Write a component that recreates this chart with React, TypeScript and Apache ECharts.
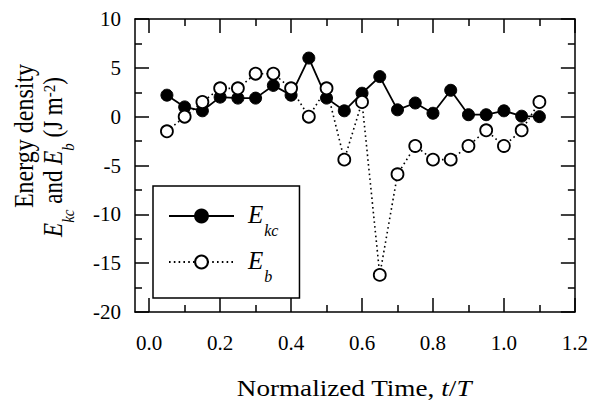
import React, { useEffect, useRef } from "react";
import * as echarts from "echarts";

const times = [0.05, 0.1, 0.15, 0.2, 0.25, 0.3, 0.35, 0.4, 0.45, 0.5, 0.55, 0.6, 0.65, 0.7, 0.75, 0.8, 0.85, 0.9, 0.95, 1.0, 1.05, 1.1];
const ekc = [2.2, 1.0, 0.6, 2.0, 1.9, 1.9, 3.2, 2.2, 6.0, 1.9, 0.6, 2.4, 4.1, 0.7, 1.4, 0.35, 2.7, 0.2, 0.2, 0.6, 0.05, 0.0];
const eb = [-1.5, 0.0, 1.5, 2.9, 2.9, 4.4, 4.4, 2.9, 0.0, 2.9, -4.4, 1.5, -16.2, -5.9, -3.0, -4.4, -4.4, -3.0, -1.4, -3.0, -1.4, 1.5];
const xMajorTicks = [0, 0.2, 0.4, 0.6, 0.8, 1.0, 1.2];
const xMinorTicks = [0.1, 0.3, 0.5, 0.7, 0.9, 1.1];
const yMin = -20;
const yMax = 10;
const yStep = 5;

const FONT = "Liberation Serif";

export default function App() {
  const ref = useRef<HTMLDivElement>(null);
  useEffect(() => {
    if (!ref.current) return;
    const chart = echarts.init(ref.current, null, { renderer: "svg" });
    const axisLineStyle = { color: "#000", width: 1.5 };
    const grid = { left: 135, top: 19, width: 440, height: 293 };
    const xBase = (position: string, ticks: number[], len: number, labels: boolean, line: boolean) => ({
      type: "value",
      position,
      min: -0.04,
      max: 1.2,
      axisLine: { show: line, onZero: false, lineStyle: axisLineStyle },
      axisTick: { show: true, inside: true, length: len, customValues: ticks, lineStyle: axisLineStyle },
      axisLabel: labels
        ? {
            show: true,
            customValues: xMajorTicks,
            formatter: (v: number) => v.toFixed(1),
            color: "#000",
            fontFamily: FONT,
            fontSize: 21,
            margin: 20,
          }
        : { show: false },
      splitLine: { show: false },
    });
    const yBase = (position: string, labels: boolean) => ({
      type: "value",
      position,
      min: yMin,
      max: yMax,
      interval: yStep,
      axisLine: { show: true, onZero: false, lineStyle: axisLineStyle },
      axisTick: { show: true, inside: true, length: 14, lineStyle: axisLineStyle },
      minorTick: { show: true, splitNumber: 2, length: 7, lineStyle: axisLineStyle },
      axisLabel: labels
        ? { show: true, color: "#000", fontFamily: FONT, fontSize: 21, margin: 14 }
        : { show: false },
      splitLine: { show: false },
      minorSplitLine: { show: false },
    });
    const legendRich = {
      e: { fontFamily: FONT, fontStyle: "italic", fontSize: 25, lineHeight: 28, verticalAlign: "top", color: "#000", padding: [0, 0, 0, 9] },
      s: { fontFamily: FONT, fontStyle: "italic", fontSize: 16, lineHeight: 16, padding: [20, 0, 0, 1], verticalAlign: "top", color: "#000" },
    };
    const nameRich = {
      n: { fontFamily: FONT, fontSize: 23, lineHeight: 26, verticalAlign: "top", color: "#000" },
      i: { fontFamily: FONT, fontStyle: "italic", fontSize: 23, lineHeight: 26, verticalAlign: "top", color: "#000" },
      sb: { fontFamily: FONT, fontStyle: "italic", fontSize: 15, lineHeight: 15, padding: [17, 0, 0, 0], verticalAlign: "top", color: "#000" },
      sp: { fontFamily: FONT, fontSize: 15, lineHeight: 15, padding: [0, 0, 0, 0], verticalAlign: "top", color: "#000" },
    };
    chart.setOption({
      animation: false,
      backgroundColor: "#fff",
      grid,
      xAxis: [
        xBase("bottom", xMajorTicks, 14, true, true),
        xBase("bottom", xMinorTicks, 7, false, false),
        xBase("top", xMajorTicks, 14, false, true),
        xBase("top", xMinorTicks, 7, false, false),
      ],
      yAxis: [yBase("left", true), yBase("right", false)],
      legend: {
        orient: "vertical",
        left: 153,
        top: 186,
        padding: [16, 21, 14, 15],
        itemGap: 10,
        itemWidth: 65,
        itemHeight: 16,
        borderColor: "#000",
        borderWidth: 1.5,
        backgroundColor: "#fff",
        data: ["Ekc", "Eb"],
        formatter: (name: string) => (name === "Ekc" ? "{e|E}{s|kc}" : "{e|E}{s|b}"),
        textStyle: { rich: legendRich },
      },
      graphic: [
        {
          type: "text",
          x: 24,
          y: 136,
          rotation: Math.PI / 2,
          scaleY: 1.15,
          style: { text: "Energy density", fontFamily: FONT, fontSize: 24, fill: "#000", align: "center", verticalAlign: "middle" },
        },
        {
          type: "text",
          x: 55,
          y: 157,
          rotation: Math.PI / 2,
          scaleY: 1.15,
          style: {
            text: "{i|E}{sb|kc}{n| and }{i|E}{sb|b}{n| (J m}{sp|-2}{n|)}",
            rich: nameRich,
            align: "center",
            verticalAlign: "middle",
          },
        },
        {
          type: "text",
          x: 354,
          y: 390,
          scaleX: 1.18,
          style: {
            text: "{n|Normalized Time, }{i|t}{n|/}{i|T}",
            rich: nameRich,
            align: "center",
            verticalAlign: "middle",
          },
        },
      ],
      series: [
        {
          name: "Ekc",
          type: "line",
          xAxisIndex: 0,
          yAxisIndex: 0,
          data: times.map((t, i) => [t, ekc[i]]),
          symbol: "circle",
          symbolSize: 12,
          lineStyle: { color: "#000", width: 1.8, type: "solid" },
          itemStyle: { color: "#000", borderColor: "#000", borderWidth: 1 },
          z: 2,
        },
        {
          name: "Eb",
          type: "line",
          xAxisIndex: 0,
          yAxisIndex: 0,
          data: times.map((t, i) => [t, eb[i]]),
          symbol: "circle",
          symbolSize: 12,
          lineStyle: { color: "#000", width: 1.6, type: [1.6, 3.2] },
          itemStyle: { color: "#fff", borderColor: "#000", borderWidth: 1.8 },
          z: 3,
        },
      ],
    });
    return () => chart.dispose();
  }, []);
  return <div ref={ref} style={{ width: 591, height: 400, position: "absolute", left: 0, top: 0 }} />;
}
